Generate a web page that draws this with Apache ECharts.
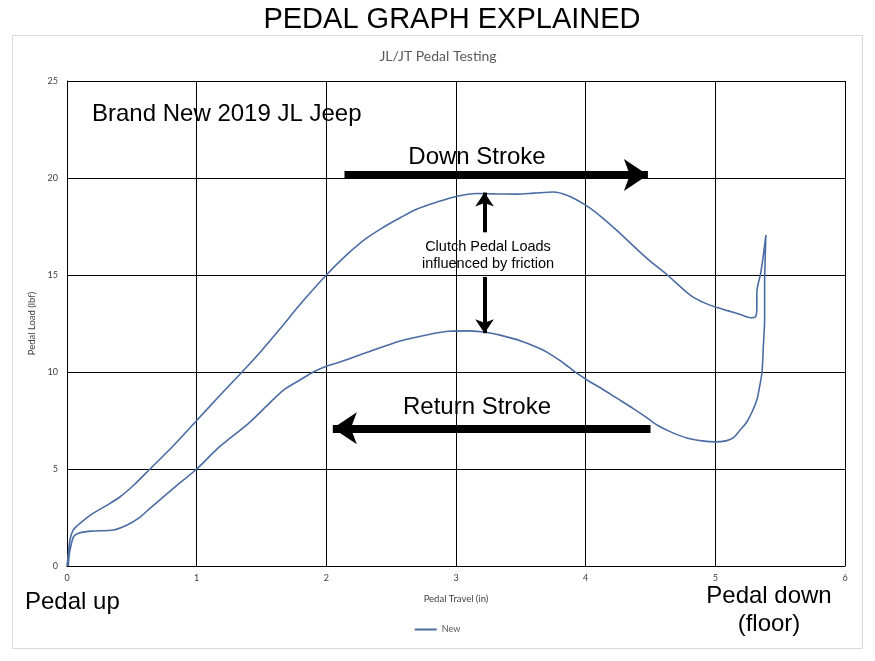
<!DOCTYPE html>
<html>
<head>
<meta charset="utf-8">
<script src="https://cdn.jsdelivr.net/npm/echarts@6/dist/echarts.min.js"></script>
<style>
html,body{margin:0;padding:0;background:#fff;}
#chart{width:875px;height:661px;}
</style>
</head>
<body>
<div id="chart"></div>
<script>
// ---- data (Pedal Travel in, Pedal Load lbf), loop in measurement order ----
const seriesName = 'New';
const downStroke = [
  [0,0],[0.01,0.6],[0.023,1.34],[0.049,1.86],[0.10,2.2],[0.20,2.71],[0.30,3.1],[0.41,3.57],
  [0.52,4.2],[0.64,5.0],[0.82,6.2],[1.0,7.5],[1.18,8.8],[1.35,10.0],[1.5,11.1],[1.64,12.2],
  [1.8,13.5],[2.0,15.0],[2.15,16.0],[2.31,16.9],[2.45,17.5],[2.57,17.95],[2.7,18.4],
  [2.85,18.75],[3.0,19.05],[3.16,19.2],[3.3,19.18],[3.47,19.17],[3.6,19.22],[3.75,19.28],
  [3.86,19.1],[4.0,18.6],[4.12,18.0],[4.24,17.3],[4.4,16.3],[4.5,15.7],[4.63,15.0],
  [4.73,14.4],[4.82,13.9],[4.92,13.55],[5.0,13.35],[5.1,13.15],[5.2,12.95],[5.27,12.8],
  [5.31,12.85]
];
const floorHook = [
  [5.32,13.3],[5.32,14.1],[5.35,15.1],[5.37,16.0],[5.39,17.06]
];
const returnStroke = [
  [5.385,16.0],[5.38,14.5],[5.38,12.7],[5.37,11.3],[5.36,10.0],[5.34,9.2],[5.32,8.56],
  [5.28,7.9],[5.24,7.4],[5.19,7.0],[5.14,6.62],[5.08,6.45],[5.0,6.4],[4.9,6.45],
  [4.78,6.6],[4.66,6.9],[4.55,7.27],[4.46,7.7],[4.37,8.1],[4.24,8.65],[4.11,9.2],
  [4.02,9.55],[3.94,9.9],[3.87,10.25],[3.8,10.6],[3.72,10.95],[3.65,11.2],[3.5,11.6],
  [3.34,11.9],[3.24,12.04],[3.1,12.12],[2.95,12.1],[2.8,11.95],[2.57,11.6],
  [2.31,11.0],[2.1,10.5],[2.0,10.3],[1.9,10.0],[1.8,9.6],[1.67,9.07],[1.54,8.25],
  [1.4,7.35],[1.26,6.6],[1.16,6.05],[1.0,5.0],[0.82,4.0],[0.64,2.97],[0.55,2.45],
  [0.46,2.1],[0.36,1.86],[0.18,1.8],[0.087,1.69],[0.05,1.5],[0.02,0.7],[0.01,0]
];
const xTicks = [0,1,2,3,4,5,6];
const yTicks = [0,5,10,15,20,25];

// annotation arrows, in data coordinates (start -> tip)
const arrowDown = [[2.14,20.15],[4.48,20.15]];
const arrowReturn = [[4.5,7.1],[2.05,7.1]];
const arrowUp = [[3.22,17.2],[3.22,19.25]];
const arrowToLower = [[3.22,14.9],[3.22,12.0]];

const loop = downStroke.concat(floorHook, returnStroke);

const chart = echarts.init(document.getElementById('chart'));
const arial = '"Liberation Sans", Arial, sans-serif';
const small = 'Lato, "Open Sans", sans-serif';

chart.setOption({
  animation: false,
  backgroundColor: '#fff',
  grid: {left: 67, right: 30, top: 81, bottom: 95},
  legend: {
    data: [seriesName], bottom: 22, left: 'center',
    itemWidth: 22, itemHeight: 8, icon: 'path://M0,3L22,3L22,5L0,5Z',
    textStyle: {fontFamily: small, fontSize: 9, color: '#595959'}
  },
  xAxis: {
    type: 'value', min: xTicks[0], max: xTicks[xTicks.length-1], interval: 1,
    name: 'Pedal Travel (in)', nameLocation: 'middle', nameGap: 28,
    nameTextStyle: {fontFamily: small, fontSize: 9.5, color: '#404040'},
    axisLine: {show: true, lineStyle: {color: '#000', width: 1}},
    axisTick: {show: false},
    axisLabel: {fontFamily: small, fontSize: 9, color: '#404040', margin: 8},
    splitLine: {show: true, lineStyle: {color: '#000', width: 1}}
  },
  yAxis: {
    type: 'value', min: yTicks[0], max: yTicks[yTicks.length-1], interval: 5,
    name: 'Pedal Load (lbf)', nameLocation: 'middle', nameGap: 28,
    nameTextStyle: {fontFamily: small, fontSize: 9.5, color: '#404040'},
    axisLine: {show: true, lineStyle: {color: '#000', width: 1}},
    axisTick: {show: false},
    axisLabel: {fontFamily: small, fontSize: 9, color: '#404040', margin: 9},
    splitLine: {show: true, lineStyle: {color: '#000', width: 1}}
  },
  series: [{
    name: seriesName, type: 'line', data: loop, smooth: 0.3, showSymbol: false,
    lineStyle: {color: '#4a6ca3', width: 1.6}, itemStyle: {color: '#4a6ca3'},
    markLine: {
      silent: true, symbol: ['none', 'arrow'], label: {show: false},
      lineStyle: {type: 'solid', color: '#000'},
      data: [
        [{coord: arrowDown[0], lineStyle: {width: 8, color: '#000'}, symbolSize: 24},
         {coord: arrowDown[1], symbolSize: 24}],
        [{coord: arrowReturn[0], lineStyle: {width: 8, color: '#000'}, symbolSize: 24},
         {coord: arrowReturn[1], symbolSize: 24}],
        [{coord: arrowUp[0], lineStyle: {width: 4, color: '#000'}, symbolSize: 14},
         {coord: arrowUp[1], symbolSize: 14}],
        [{coord: arrowToLower[0], lineStyle: {width: 4, color: '#000'}, symbolSize: 14},
         {coord: arrowToLower[1], symbolSize: 14}]
      ]
    }
  }],
  graphic: [
    {type: 'rect', silent: true, z: -1, shape: {x: 12.5, y: 35.5, width: 850, height: 613},
     style: {fill: 'none', stroke: '#d9d9d9', lineWidth: 1}},
    {type: 'text', x: 452, y: 20,
     style: {text: 'PEDAL GRAPH EXPLAINED', font: '29px ' + arial, fill: '#000', align: 'center', verticalAlign: 'middle'}},
    {type: 'text', x: 438, y: 56,
     style: {text: 'JL/JT Pedal Testing', font: '14px ' + small, fill: '#595959', align: 'center', verticalAlign: 'middle'}},
    {type: 'text', x: 92, y: 114,
     style: {text: 'Brand New 2019 JL Jeep', font: '24px ' + arial, fill: '#000', align: 'left', verticalAlign: 'middle'}},
    {type: 'text', x: 477, y: 157,
     style: {text: 'Down Stroke', font: '24px ' + arial, fill: '#000', align: 'center', verticalAlign: 'middle'}},
    {type: 'text', x: 477, y: 407,
     style: {text: 'Return Stroke', font: '24px ' + arial, fill: '#000', align: 'center', verticalAlign: 'middle'}},
    {type: 'text', x: 488, y: 247,
     style: {text: 'Clutch Pedal Loads', font: '14.5px ' + arial, fill: '#000', align: 'center', verticalAlign: 'middle'}},
    {type: 'text', x: 488, y: 264,
     style: {text: 'influenced by friction', font: '14.5px ' + arial, fill: '#000', align: 'center', verticalAlign: 'middle'}},
    {type: 'text', x: 25, y: 602,
     style: {text: 'Pedal up', font: '24px ' + arial, fill: '#000', align: 'left', verticalAlign: 'middle'}},
    {type: 'text', x: 769, y: 596,
     style: {text: 'Pedal down', font: '24px ' + arial, fill: '#000', align: 'center', verticalAlign: 'middle'}},
    {type: 'text', x: 769, y: 624,
     style: {text: '(floor)', font: '24px ' + arial, fill: '#000', align: 'center', verticalAlign: 'middle'}}
  ]
});
</script>
</body>
</html>
